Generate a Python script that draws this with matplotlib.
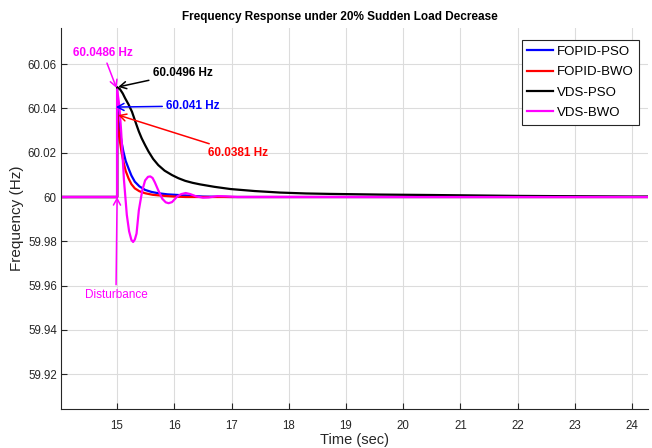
import matplotlib.pyplot as plt

plt.rcParams['font.family'] = ['Liberation Sans', 'DejaVu Sans']

# values (time in s, frequency in Hz)
t_fopid_pso = [14.0, 15.0, 15.0, 15.02, 15.05, 15.08, 15.11, 15.15, 15.2, 15.25, 15.31, 15.39,
               15.49, 15.6, 15.72, 15.88, 16.07, 16.3, 16.5, 17.0, 25.0]
f_fopid_pso = [60.0, 60.0, 60.041, 60.0355, 60.0295, 60.0245, 60.0205, 60.0163, 60.0129, 60.0097,
               60.0069, 60.0048, 60.0032, 60.0023, 60.0017, 60.0012, 60.0009, 60.0005, 60.0002,
               60.0, 60.0]

t_fopid_bwo = [14.0, 15.0, 15.0, 15.02, 15.05, 15.08, 15.11, 15.15, 15.2, 15.25, 15.31, 15.39,
               15.49, 15.62, 15.78, 16.0, 16.2, 25.0]
f_fopid_bwo = [60.0, 60.0, 60.0381, 60.0315, 60.025, 60.0198, 60.016, 60.0118, 60.0084, 60.0058,
               60.0039, 60.0026, 60.0017, 60.001, 60.0006, 60.0002, 60.0, 60.0]

t_vds_pso = [14.0, 15.0, 15.0, 15.05, 15.1, 15.14, 15.2, 15.26, 15.3, 15.34, 15.38, 15.43, 15.49,
             15.55, 15.63, 15.72, 15.83, 15.96, 16.07, 16.19, 16.32, 16.45, 16.7, 16.98, 17.4,
             17.85, 18.3, 18.72, 19.6, 20.5, 22.0, 24.0, 25.0]
f_vds_pso = [60.0, 60.0, 60.0496, 60.0487, 60.0467, 60.0446, 60.0418, 60.0385, 60.0355, 60.0325,
             60.0296, 60.0265, 60.0234, 60.0205, 60.0172, 60.0144, 60.0119, 60.0099, 60.0085,
             60.0073, 60.0064, 60.0057, 60.0046, 60.0036, 60.0027, 60.002, 60.0016, 60.0014,
             60.0011, 60.0009, 60.0005, 60.0002, 60.0002]

t_vds_bwo = [14.0, 15.0, 15.0, 15.04, 15.07, 15.12, 15.17, 15.21, 15.25, 15.28, 15.31, 15.34,
             15.38, 15.44, 15.49, 15.54, 15.58, 15.62, 15.66, 15.72, 15.79, 15.85, 15.9, 15.96,
             16.05, 16.12, 16.2, 16.28, 16.38, 16.5, 16.6, 16.75, 16.9, 17.1, 25.0]
f_vds_bwo = [60.0, 60.0, 60.0486, 60.041, 60.030, 60.0077, 59.9919, 59.9845, 59.9806, 59.9797,
             59.9808, 59.9835, 59.994, 60.003, 60.0075, 60.0091, 60.0093, 60.0086, 60.0066,
             60.0030, 59.9992, 59.9976, 59.9972, 59.9977, 60.0002, 60.0013, 60.0018, 60.0013,
             60.0003, 59.9997, 59.9998, 60.0004, 60.0003, 60.0, 60.0]

labels = ['FOPID-PSO', 'FOPID-BWO', 'VDS-PSO', 'VDS-BWO']
colors = ['#0000FF', '#FF0000', '#000000', '#FF00FF']

xticks = list(range(15, 25))
yticks = [59.92, 59.94, 59.96, 59.98, 60.0, 60.02, 60.04, 60.06]
ytick_labels = ['59.92', '59.94', '59.96', '59.98', '60', '60.02', '60.04', '60.06']

fig = plt.figure(figsize=(6.52, 4.48), dpi=100)
ax = fig.add_axes([0.0936, 0.0871, 0.9003, 0.8504])

series = [(t_fopid_pso, f_fopid_pso), (t_fopid_bwo, f_fopid_bwo),
          (t_vds_pso, f_vds_pso), (t_vds_bwo, f_vds_bwo)]
for (t, f), lab, c in zip(series, labels, colors):
    ax.plot(t, f, color=c, lw=1.6, label=lab)

ax.set_xlim(14.02, 24.28)
ax.set_ylim(59.9043, 60.0763)
ax.set_xticks(xticks)
ax.set_yticks(yticks)
ax.set_yticklabels(ytick_labels)
ax.tick_params(direction='in', length=4, width=0.8, colors='#262626', labelsize=8.3, pad=3)
ax.tick_params(axis='x', pad=8)
ax.grid(True, color='#dcdcdc', lw=0.8)
ax.set_axisbelow(True)
for s in ['top', 'right']:
    ax.spines[s].set_visible(False)
for s in ['left', 'bottom']:
    ax.spines[s].set_color('#262626')
    ax.spines[s].set_linewidth(0.8)

ax.set_xlabel('Time (sec)', fontsize=10.5, color='#262626', labelpad=1)
ax.set_ylabel('Frequency (Hz)', fontsize=11, color='#262626', labelpad=3)
fig.text(0.521, 0.962, 'Frequency Response under 20% Sudden Load Decrease',
         ha='center', va='center', fontsize=8.5, fontweight='bold')

leg = ax.legend(loc='upper right', bbox_to_anchor=(0.9847, 0.9685), borderaxespad=0,
                fontsize=9.5, fancybox=False, framealpha=1, edgecolor='#262626',
                handlelength=2.0, handletextpad=0.25, labelspacing=0.62, borderpad=0.42)
leg.get_frame().set_linewidth(0.8)

# peak annotations
notes = [('60.0486 Hz', (14.99, 60.0492), (14.755, 60.065), '#FF00FF', 'bold'),
         ('60.0496 Hz', (15.02, 60.0497), (16.15, 60.056), '#000000', 'bold'),
         ('60.041 Hz', (14.98, 60.0406), (16.33, 60.0411), '#0000FF', 'bold'),
         ('60.0381 Hz', (15.02, 60.037), (17.12, 60.0199), '#FF0000', 'bold'),
         ('Disturbance', (15.0, 60.0), (14.98, 59.9558), '#FF00FF', 'normal')]
for txt, xy, xyt, c, w in notes:
    ax.annotate(txt, xy=xy, xytext=xyt, ha='center', va='center', color=c,
                fontsize=8.5, fontweight=w,
                arrowprops=dict(arrowstyle='->,head_length=0.55,head_width=0.3',
                                color=c, lw=1.1, shrinkA=1, shrinkB=0))

fig.savefig('out.png', dpi=100)
